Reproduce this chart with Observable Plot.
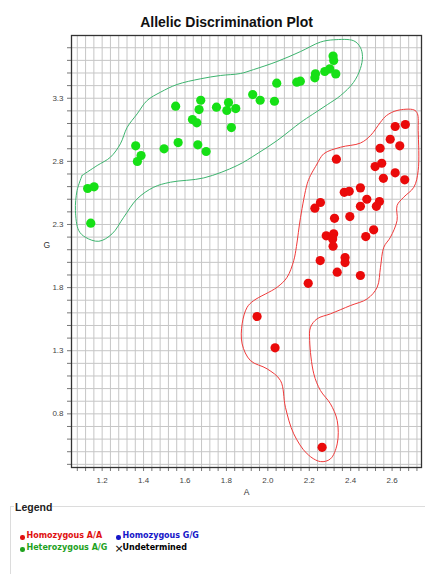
<!DOCTYPE html>
<html>
<head>
<meta charset="utf-8">
<script src="https://cdn.jsdelivr.net/npm/d3@7"></script>
<script src="https://cdn.jsdelivr.net/npm/@observablehq/plot@0.6"></script>
<style>
  html, body { margin: 0; padding: 0; background: #fff; }
  #wrap { width: 425px; position: relative; }
  #legend { position: relative; width: 425px; height: 74px; font-family: "DejaVu Sans", sans-serif; }
  #legend .t { position: absolute; white-space: nowrap; line-height: 12px; }
  #legend .it { font-size: 8px; font-weight: bold; }
  #legend .dot { position: absolute; width: 4.5px; height: 4.5px; border-radius: 50%; }
  #legend .ln { position: absolute; background: #dcdcdc; }
</style>
</head>
<body>
<div id="wrap"></div>
<script>
// ---- data ----
const titleText = "Allelic Discrimination Plot";
const xLabel = "A";
const yLabel = "G";
const xTickLabels = [1.2, 1.4, 1.6, 1.8, 2.0, 2.2, 2.4, 2.6];
const yTickLabels = [0.8, 1.3, 1.8, 2.3, 2.8, 3.3];

// Heterozygous A/G (green)
const hetA = [1.130,1.161,1.145,1.362,1.388,1.370,1.499,1.555,1.567,1.636,1.657,1.676,1.668,1.662,1.702,1.752,1.810,1.802,1.845,1.824,1.927,1.963,2.032,2.043,2.140,2.157,2.227,2.230,2.275,2.299,2.328,2.318,2.315];
const hetG = [2.585,2.598,2.310,2.923,2.846,2.799,2.899,3.237,2.949,3.131,3.105,3.284,3.210,2.931,2.878,3.229,3.266,3.203,3.218,3.068,3.329,3.284,3.276,3.419,3.427,3.435,3.462,3.493,3.512,3.533,3.493,3.599,3.634];

// Homozygous A/A (red)
const homAA_A = [2.664,2.615,2.591,2.637,2.542,2.331,2.550,2.518,2.615,2.558,2.661,2.447,2.369,2.393,2.478,2.539,2.524,2.447,2.254,2.227,2.322,2.396,2.511,2.473,2.282,2.318,2.313,2.315,2.253,2.373,2.373,2.335,2.447,2.195,1.948,2.035,2.262];
const homAA_G = [3.092,3.076,2.975,2.923,2.904,2.817,2.785,2.759,2.709,2.666,2.654,2.590,2.555,2.563,2.500,2.482,2.444,2.444,2.474,2.429,2.349,2.363,2.258,2.204,2.210,2.226,2.186,2.128,2.014,2.038,1.998,1.922,1.896,1.834,1.571,1.323,0.535];

// Cluster outlines (drawn in data units)
const greenOutlineA = [1.103,1.176,1.240,1.288,1.321,1.369,1.417,1.482,1.562,1.675,1.771,1.868,1.931,2.045,2.158,2.254,2.318,2.415,2.447,2.457,2.447,2.413,2.351,2.288,2.215,2.158,2.045,1.948,1.852,1.691,1.530,1.449,1.369,1.304,1.248,1.184,1.119,1.087,1.071,1.079,1.103];
const greenOutlineG = [2.688,2.767,2.833,2.939,3.070,3.176,3.282,3.348,3.409,3.454,3.480,3.496,3.527,3.591,3.670,3.745,3.763,3.755,3.702,3.630,3.535,3.424,3.321,3.250,3.171,3.108,2.965,2.860,2.767,2.669,2.635,2.595,2.503,2.357,2.226,2.167,2.199,2.252,2.410,2.569,2.688];
const redOutlineA = [2.238,2.270,2.351,2.447,2.496,2.544,2.573,2.624,2.705,2.722,2.726,2.726,2.705,2.656,2.624,2.624,2.592,2.560,2.544,2.528,2.480,2.399,2.302,2.238,2.206,2.202,2.222,2.254,2.302,2.335,2.335,2.302,2.254,2.190,2.125,2.085,2.061,1.997,1.916,1.876,1.876,1.900,1.932,2.045,2.093,2.125,2.138,2.158,2.190,2.206,2.238];
const redOutlineG = [2.780,2.860,2.912,2.945,3.005,3.110,3.163,3.203,3.208,3.179,3.044,2.727,2.595,2.516,2.450,2.331,2.199,2.120,1.961,1.803,1.711,1.658,1.592,1.553,1.486,1.381,1.117,0.985,0.880,0.747,0.562,0.443,0.422,0.483,0.642,0.852,1.064,1.156,1.222,1.354,1.513,1.644,1.697,1.803,1.882,2.014,2.125,2.357,2.622,2.688,2.780];

const legendItems = [
  {label: "Homozygous A/A", color: "#e01010", sym: "dot", col: 0, row: 0},
  {label: "Homozygous G/G", color: "#1616c8", sym: "dot", col: 1, row: 0},
  {label: "Heterozygous A/G", color: "#1fa21f", sym: "dot", col: 0, row: 1},
  {label: "Undetermined", color: "#000000", sym: "x", col: 1, row: 1}
];

// ---- build tables ----
const het = hetA.map((a, i) => ({A: a, G: hetG[i]}));
const homAA = homAA_A.map((a, i) => ({A: a, G: homAA_G[i]}));
const gOut = greenOutlineA.map((a, i) => ({A: a, G: greenOutlineG[i]}));
const rOut = redOutlineA.map((a, i) => ({A: a, G: redOutlineG[i]}));

const xGrid = d3.range(27, 69).map(k => +(k * 0.04).toFixed(2));
const yGrid = d3.range(4, 38).map(k => +(k * 0.1).toFixed(1));

const chart = Plot.plot({
  width: 425,
  height: 500,
  marginLeft: 71,
  marginRight: 4,
  marginTop: 35,
  marginBottom: 33,
  style: {fontFamily: "'Liberation Sans', Arial, sans-serif", background: "#fff"},
  x: {domain: [1.052, 2.742]},
  y: {domain: [0.375, 3.797]},
  marks: [
    Plot.gridX(xGrid, {stroke: "#c6c6c6", strokeOpacity: 1}),
    Plot.gridY(yGrid, {stroke: "#c6c6c6", strokeOpacity: 1}),
    Plot.axisX(xGrid, {tickSize: 4, tickFormat: () => "", stroke: "#777", label: null}),
    Plot.axisY(yGrid, {tickSize: 4, tickFormat: () => "", stroke: "#777", label: null}),
    Plot.axisX(xTickLabels, {tickSize: 0, tickPadding: 10, fontSize: 8, fill: "#444", tickFormat: d => d.toFixed(1), label: null}),
    Plot.axisY(yTickLabels, {tickSize: 0, tickPadding: 8, fontSize: 8, fill: "#444", tickFormat: d => d.toFixed(1), label: null}),
    Plot.line(gOut, {x: "A", y: "G", stroke: "#3cb46e", strokeWidth: 1, curve: "catmull-rom"}),
    Plot.line(rOut, {x: "A", y: "G", stroke: "#f03a3a", strokeWidth: 1, curve: "catmull-rom"}),
    Plot.dot(het, {x: "A", y: "G", r: 4.6, fill: "#16e016", stroke: "none"}),
    Plot.dot(homAA, {x: "A", y: "G", r: 4.6, fill: "#ea0a0a", stroke: "none"}),
    Plot.frame({stroke: "#333", strokeWidth: 1.3}),
    Plot.text([titleText], {frameAnchor: "top", dx: -20, dy: -18, fontSize: 14, fontWeight: "bold", fill: "#111"}),
    Plot.text([xLabel], {frameAnchor: "bottom", dy: 27, fontSize: 8.5, fill: "#333"}),
    Plot.text([yLabel], {frameAnchor: "left", dx: -28, dy: -6, fontSize: 8.5, fill: "#333"})
  ]
});
document.getElementById("wrap").appendChild(chart);

// ---- legend ----
const lg = document.createElement("div");
lg.id = "legend";
const add = (html, css, cls) => {
  const e = document.createElement("div");
  e.className = cls || "t";
  e.innerHTML = html;
  e.style.cssText = css;
  lg.appendChild(e);
  return e;
};
add("", "left:10px;top:6px;width:1px;height:68px;", "ln");
add("", "left:10px;top:6px;width:4px;height:1px;", "ln");
add("", "left:52px;top:6px;width:373px;height:1px;", "ln");
add("Legend", "left:15px;top:1px;font-size:10.5px;font-weight:bold;font-family:'Liberation Sans',Arial,sans-serif;color:#222;");
const colX = [22, 118];
const rowY = [36, 48.3];
legendItems.forEach(it => {
  const cx = colX[it.col], cy = rowY[it.row];
  if (it.sym === "dot") {
    add("", `left:${cx - 2}px;top:${cy - 1}px;background:${it.color};`, "dot");
    add(it.label, `left:${cx + 4.5}px;top:${cy - 6}px;color:${it.color};`, "t it");
  } else {
    add("×", `left:${cx - 3.5}px;top:${cy - 5}px;font-size:11px;color:#000;`, "t");
    add(it.label, `left:${cx + 4.5}px;top:${cy - 6}px;color:${it.color};`, "t it");
  }
});
document.getElementById("wrap").appendChild(lg);
</script>
</body>
</html>
